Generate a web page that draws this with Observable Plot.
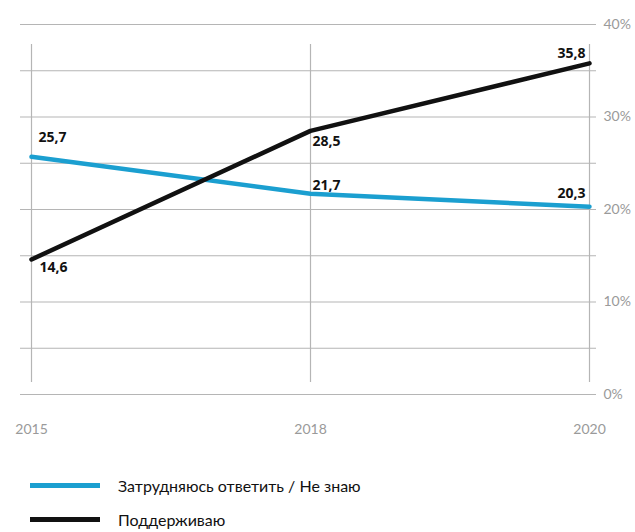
<!DOCTYPE html>
<html><head><meta charset="utf-8">
<script src="https://cdn.jsdelivr.net/npm/d3@7"></script>
<script src="https://cdn.jsdelivr.net/npm/@observablehq/plot@0.6"></script>
<style>
body{margin:0;background:#fff;font-family:Lato,"Open Sans",sans-serif;}
#legend{margin-top:18px;margin-left:30px;font-size:16px;color:#111;}
.item{display:flex;align-items:center;height:34px;}
.sw{width:70px;height:5px;margin-right:18px;}
</style></head>
<body>
<div id="chart"></div>
<div id="legend"></div>
<script>
const years = ["2015", "2018", "2020"];
const seriesNames = ["Затрудняюсь ответить / Не знаю", "Поддерживаю"];
const hardToSay = [25.7, 21.7, 20.3];
const support = [14.6, 28.5, 35.8];
const colors = ["#1b9fd0", "#111111"];
const yTicks = [0, 10, 20, 30, 40];
const yGrid = [0, 5, 10, 15, 20, 25, 30, 35, 40];

const rows = [];
years.forEach((y, i) => {
  rows.push({year: y, value: hardToSay[i], series: seriesNames[0], idx: i});
  rows.push({year: y, value: support[i], series: seriesNames[1], idx: i});
});
const fmt = v => v.toFixed(1).replace(".", ",");
const lab = (s, i) => rows.filter(r => r.series === seriesNames[s] && r.idx === i);
const textOpts = {x: "year", y: "value", text: d => fmt(d.value), fontWeight: "bold", fontSize: 14, fill: "#111", fontFamily: "Open Sans"};

const chart = Plot.plot({
  width: 635, height: 450,
  marginLeft: 30, marginRight: 46, marginTop: 24, marginBottom: 56,
  x: {type: "point", domain: years, padding: 0, axis: null},
  y: {domain: [0, 40], axis: null},
  color: {domain: seriesNames, range: colors},
  marks: [
    Plot.ruleY(yGrid, {y: d => d, stroke: "#b5b5b5", strokeWidth: 1.2, insetLeft: -10, insetRight: -7}),
    Plot.ruleX(years, {x: d => d, y1: 0, y2: 40, stroke: "#b5b5b5", strokeWidth: 1.2, insetTop: -12, insetBottom: -20}),
    Plot.axisY(yTicks, {anchor: "right", label: null, tickSize: 0, tickPadding: 14, tickFormat: d => d + "%", fill: "#9a9a9a", fontSize: 14, fontFamily: "Lato"}),
    Plot.axisX(years, {anchor: "bottom", label: null, tickSize: 0, tickPadding: 30, fill: "#9a9a9a", fontSize: 14, fontFamily: "Lato"}),
    Plot.line(rows, {x: "year", y: "value", z: "series", stroke: "series", strokeWidth: 4.5}),
    Plot.text(lab(0, 0), {...textOpts, textAnchor: "start", dx: 7, dy: -19}),
    Plot.text(lab(1, 0), {...textOpts, textAnchor: "start", dx: 8, dy: 8}),
    Plot.text(lab(1, 1), {...textOpts, textAnchor: "start", dx: 2, dy: 11}),
    Plot.text(lab(0, 1), {...textOpts, textAnchor: "start", dx: 2, dy: -8}),
    Plot.text(lab(1, 2), {...textOpts, textAnchor: "end", dx: -4, dy: -10}),
    Plot.text(lab(0, 2), {...textOpts, textAnchor: "end", dx: -4, dy: -13})
  ]
});
document.getElementById("chart").appendChild(chart);

const legend = document.getElementById("legend");
seriesNames.forEach((n, i) => {
  const it = document.createElement("div");
  it.className = "item";
  it.innerHTML = `<div class="sw" style="background:${colors[i]}"></div><span>${n}</span>`;
  legend.appendChild(it);
});
</script>
</body></html>
